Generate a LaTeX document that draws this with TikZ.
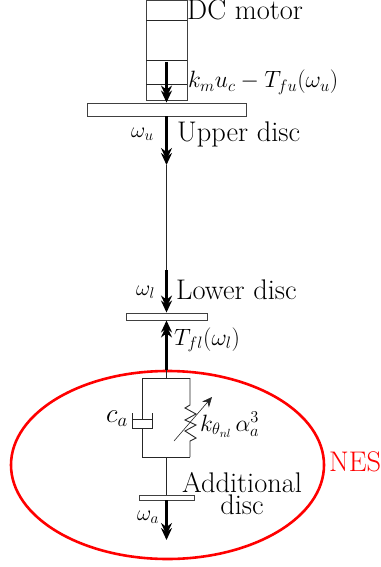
\documentclass[tikz,border=0pt]{standalone}
\usepackage{fix-cm}
\usetikzlibrary{arrows.meta,shapes.geometric}
\newcommand{\lab}{\fontsize{28.4}{30}\selectfont}
\newcommand{\mathlab}{\fontsize{23.6}{26}\selectfont}
\newcommand{\omlab}{\fontsize{22}{24}\selectfont}
\newcommand{\calab}{\fontsize{27}{28}\selectfont}
\tikzset{
  x=1pt,y=-1pt,
  thin line/.style={line width=0.9pt,black!85},
  box/.style={draw=black!75,line width=0.9pt,fill=white,inner sep=0pt,minimum width=#1},
  torque/.style={line width=2.8pt,-{Stealth[length=12pt,width=11pt,inset=4pt,sep=-7pt]Stealth[length=12pt,width=11pt,inset=4pt]}},
  txt/.style={inner sep=0pt,anchor=base west,font=\lab},
  mth/.style={inner sep=0pt,anchor=base west,font=\mathlab},
  omg/.style={inner sep=0pt,anchor=base west,font=\omlab},
}
\begin{document}
\begin{tikzpicture}
\useasboundingbox (0,0) rectangle (380,567);
% NES ellipse
\node[draw=red,line width=2.6pt,ellipse,inner sep=0pt,minimum width=313pt,minimum height=188pt] (nesell) at (167.5,465) {};
% motor
\node[box=41pt,minimum height=100pt] (motor) at (166.5,50) {};
\coordinate (m1l) at (146,20); \coordinate (m1r) at (187,20);
\coordinate (m2l) at (146,60); \coordinate (m2r) at (187,60);
\coordinate (m3l) at (146,84); \coordinate (m3r) at (187,84);
\draw[thin line] (m1l)--(m1r) (m2l)--(m2r) (m3l)--(m3r);
% discs
\node[box=159pt,minimum height=13pt] (upper) at (166.5,109.5) {};
\node[box=81pt,minimum height=7pt] (lower) at (166.5,316.5) {};
\node[box=55pt,minimum height=5pt] (add) at (166.5,497.5) {};
% shaft
\coordinate (tors1) at (166.5,62);
\coordinate (w1) at (166.5,165);
\coordinate (w2) at (166.5,270);
\coordinate (nes) at (166.5,370);
\coordinate (end) at (166.5,540);
\draw[thin line] (w1)--(w2);
\draw[torque] (tors1)--(upper.north);
\draw[torque] (upper.south)--(w1);
\draw[torque] (w2)--(lower.north);
\draw[torque] (nes)--(lower.south);
\draw[torque] (add.south)--(end);
% parallel frame
\coordinate (ft) at (166.5,378);
\coordinate (fb) at (166.5,457);
\coordinate (ftl) at (142,378); \coordinate (ftr) at (190,378);
\coordinate (fbl) at (142,457); \coordinate (fbr) at (190,457);
\draw[thin line] (nes)--(ft) (ftl)--(ftr) (fbl)--(fbr) (fb)--(add.north);
% damper
\coordinate (dp) at (142,419);
\coordinate (db) at (142,428);
\draw[thin line] (ftl)--(dp) (132,419)--(152,419) (db)--(fbl);
\draw[thin line] (132,413)--(132,428)--(152,428)--(152,413);
% spring
\draw[thin line] (ftr)--(190,405)--(185,408)--(196,414)--(185,420)--(196,425)--(185,431)--(196,438)--(190,441)--(fbr);
\coordinate (sa) at (174,441); \coordinate (sb) at (212,397);
\draw[line width=0.6pt,black!85,-{Stealth[length=10pt,width=9pt]}] (sa)--(sb);
% labels
\node[txt] (tdc) at (187,20) {DC motor};
\node[txt] (tup) at (177,142) {Upper disc};
\node[txt] (tlo) at (176,299) {Lower disc};
\node[txt,anchor=base] (tad) at (242,492) {Additional};
\node[txt,anchor=base] (tad2) at (242,514) {disc};
\node[txt,text=red] (tnes) at (329,471) {NES};
\node[mth] (lk) at (188,88) {$k_m u_c - T_{fu}(\omega_u)$};
\node[omg] (lwu) at (131,137) {$\omega_u$};
\node[omg] (lwl) at (136,295) {$\omega_l$};
\node[mth] (ltf) at (174,345) {$T_{fl}(\omega_l)$};
\node[inner sep=0pt,anchor=base west,font=\calab] (lca) at (106,422) {$c_a$};
\node[mth] (lks) at (200,431) {$k_{\theta_{nl}}\,\alpha_a^3$};
\node[omg] (lwa) at (137,520) {$\omega_a$};
\end{tikzpicture}
\end{document}
